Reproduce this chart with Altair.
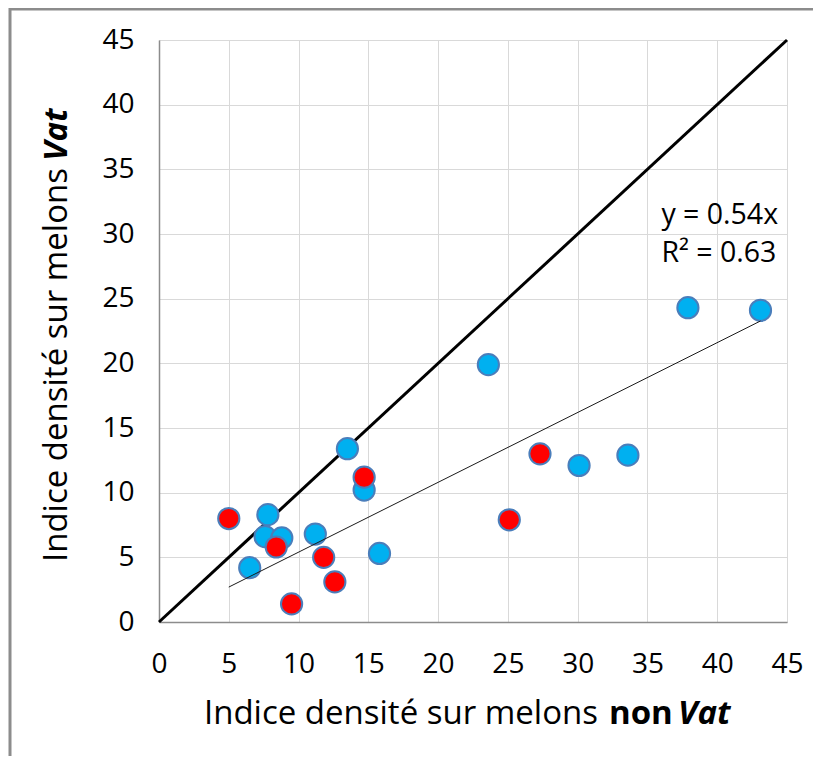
import altair as alt
import pandas as pd

# ---- data ----
blue_x = [13.5, 14.7, 7.8, 7.6, 8.8, 11.2, 15.8, 6.5, 23.6, 37.9, 43.1, 30.1, 33.6]
blue_y = [13.4, 10.2, 8.3, 6.6, 6.5, 6.8, 5.3, 4.2, 19.9, 24.3, 24.1, 12.1, 12.9]
red_x = [14.7, 5.0, 8.4, 11.8, 12.6, 9.5, 27.3, 25.1]
red_y = [11.2, 8.0, 5.8, 5.0, 3.1, 1.4, 13.0, 7.9]
ticks = [0, 5, 10, 15, 20, 25, 30, 35, 40, 45]
slope = 0.54
eq_text = ["y = 0.54x", "R² = 0.63"]

FONT = "Open Sans"
W, H = 628, 582
TFS = 33  # title font size

xs = alt.Scale(domain=[0, 45], nice=False, zero=False)
ys = alt.Scale(domain=[0, 45], nice=False, zero=False)

xaxis = alt.Axis(values=ticks, grid=True, gridColor="#d9d9d9", gridWidth=1,
                 domainColor="#8c8c8c", domainWidth=1.5, ticks=False,
                 labelFont=FONT, labelFontSize=28, labelColor="#000000",
                 labelPadding=28, title=None, labelAngle=0, labelFlush=False,
                 labelOverlap=False)
yaxis = alt.Axis(values=ticks, grid=True, gridColor="#d9d9d9", gridWidth=1,
                 domainColor="#8c8c8c", domainWidth=1.5, ticks=False,
                 labelFont=FONT, labelFontSize=28, labelColor="#000000",
                 labelPadding=25, title=None, labelFlush=False, labelOverlap=False)

blue_df = pd.DataFrame({"x": blue_x, "y": blue_y})
red_df = pd.DataFrame({"x": red_x, "y": red_y})
all_x = blue_x + red_x
id_df = pd.DataFrame({"x": [ticks[0], ticks[-1]], "y": [ticks[0], ticks[-1]]})
tr_df = pd.DataFrame({"x": [min(all_x), max(all_x)],
                      "y": [slope * min(all_x), slope * max(all_x)]})
eq_df = pd.DataFrame({"x": [36.0, 36.0], "y": [31.5, 28.5], "t": eq_text})

base_x = alt.X("x:Q", scale=xs, axis=xaxis)
base_y = alt.Y("y:Q", scale=ys, axis=yaxis)

identity = alt.Chart(id_df).mark_line(color="#000000", strokeWidth=3).encode(x=base_x, y=base_y)

blue = alt.Chart(blue_df).mark_circle(size=450, opacity=1, fill="#00b0f0", stroke="#4a7ebb",
                                      strokeWidth=2).encode(x="x:Q", y="y:Q")
red = alt.Chart(red_df).mark_circle(size=450, opacity=1, fill="#ff0000", stroke="#4a7ebb",
                                    strokeWidth=2).encode(x="x:Q", y="y:Q")
trend = alt.Chart(tr_df).mark_line(color="#1a1a1a", strokeWidth=1).encode(x="x:Q", y="y:Q")

eq = alt.Chart(eq_df).mark_text(font=FONT, fontSize=28.5, align="left", baseline="middle",
                                color="#000000").encode(x="x:Q", y="y:Q", text="t:N")

one = pd.DataFrame({"a": [0]})

# x title (mixed styles)
xt1 = alt.Chart(one).mark_text(text="Indice densité sur melons", font=FONT, fontSize=TFS,
                               align="right", baseline="middle", color="#000000").encode(
    x=alt.value(439), y=alt.value(674))
xt2 = alt.Chart(one).mark_text(text="non", font=FONT, fontSize=TFS, fontWeight="bold",
                               align="left", baseline="middle", color="#000000").encode(
    x=alt.value(450), y=alt.value(674))
xt3 = alt.Chart(one).mark_text(text="Vat", font=FONT, fontSize=TFS, fontWeight="bold",
                               fontStyle="italic", align="left", baseline="middle",
                               color="#000000").encode(x=alt.value(519), y=alt.value(674))

# y title (rotated, mixed styles)
yt1 = alt.Chart(one).mark_text(text="Indice densité sur melons", font=FONT, fontSize=TFS,
                               angle=270, align="right", baseline="middle",
                               color="#000000").encode(x=alt.value(-102), y=alt.value(128))
yt2 = alt.Chart(one).mark_text(text="Vat", font=FONT, fontSize=TFS, fontWeight="bold",
                               fontStyle="italic", angle=270, align="left", baseline="middle",
                               color="#000000").encode(x=alt.value(-102), y=alt.value(121))

# outer frame (top and left edges)
frame_top = alt.Chart(one).mark_rule(color="#8c8c8c", strokeWidth=3).encode(
    x=alt.value(-150), x2=alt.value(680), y=alt.value(-31))
frame_left = alt.Chart(one).mark_rule(color="#8c8c8c", strokeWidth=3).encode(
    x=alt.value(-149), y=alt.value(-32), y2=alt.value(760))

chart = alt.layer(identity, blue, red, trend, eq, xt1, xt2, xt3, yt1, yt2,
                  frame_top, frame_left).properties(
    width=W, height=H,
    padding={"left": 151, "top": 32, "right": 26, "bottom": 134},
    autosize=alt.AutoSizeParams(type="none"),
).configure_view(strokeWidth=0).configure(background="#ffffff")

chart.save("out.html", embed_options={"renderer": "svg", "actions": False})
